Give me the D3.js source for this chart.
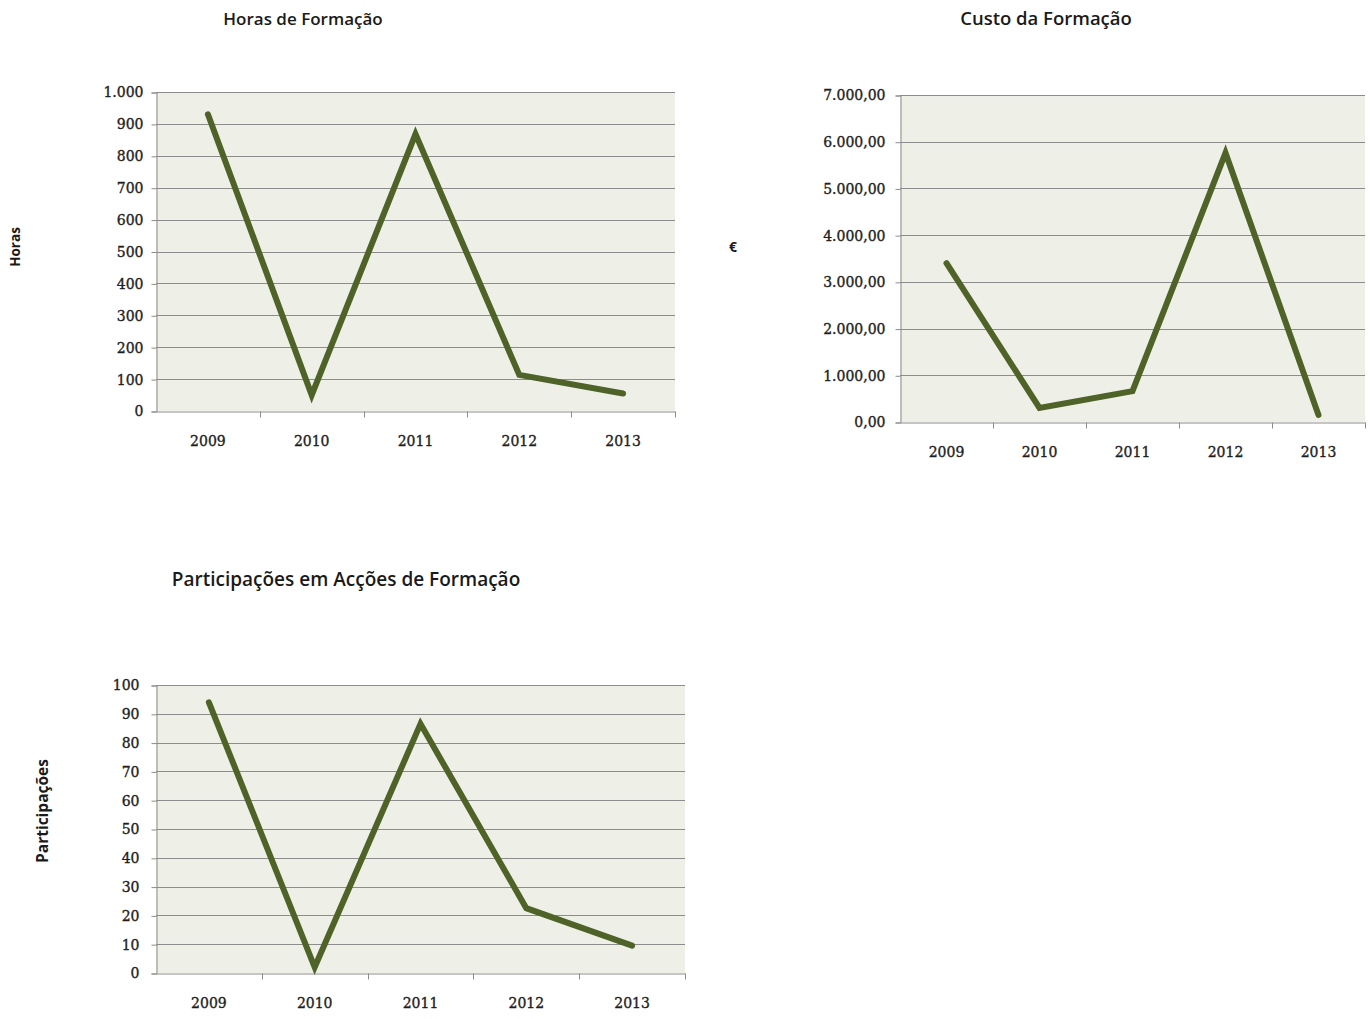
<!DOCTYPE html>
<html>
<head>
<meta charset="utf-8">
<script src="https://cdn.jsdelivr.net/npm/d3@7"></script>
<style>
  html, body { margin: 0; padding: 0; background: #fff; }
  svg { display: block; }
  .title { font-family: "Open Sans", "Noto Sans", sans-serif; font-weight: 600; fill: #1a1a1a; }
  .ytitle { font-family: "Open Sans", "Noto Sans", sans-serif; font-weight: 700; fill: #1a1a1a; }
  .tick text { font-family: "DejaVu Serif", "Liberation Serif", serif; font-size: 14px; fill: #1e1e1e; stroke: #1e1e1e; stroke-width: 0.35px; }
</style>
</head>
<body>
<svg id="chart" width="1370" height="1019"></svg>
<script>
// Years shared by the three panels
const years = ["2009", "2010", "2011", "2012", "2013"];

// Training hours per year
const horas = [930, 50, 868, 113, 55];
const horasTicks = [0, 100, 200, 300, 400, 500, 600, 700, 800, 900, 1000];

// Training cost per year (€)
const custo = [3400, 300, 660, 5760, 150];
const custoTicks = [0, 1000, 2000, 3000, 4000, 5000, 6000, 7000];

// Participations in training actions per year
const participacoes = [94, 2, 86.5, 22.5, 9.5];
const participacoesTicks = [0, 10, 20, 30, 40, 50, 60, 70, 80, 90, 100];

const pt = d3.formatLocale({ decimal: ",", thousands: ".", grouping: [3], currency: ["", " €"] });

const svg = d3.select("#chart");

function panel(cfg) {
  const g = svg.append("g");
  const x = d3.scaleBand().domain(years).range([cfg.left, cfg.right]);
  const y = d3.scaleLinear().domain([0, cfg.max]).range([cfg.bottom, cfg.top]);

  // plot background
  g.append("rect")
    .attr("x", cfg.left).attr("y", cfg.top)
    .attr("width", cfg.right - cfg.left).attr("height", cfg.bottom - cfg.top)
    .attr("fill", "#eef0e8");

  // horizontal gridlines
  g.append("g").selectAll("line")
    .data(cfg.ticks.filter(t => t > 0))
    .join("line")
    .attr("x1", cfg.left).attr("x2", cfg.right)
    .attr("y1", d => Math.round(y(d)) + 0.5).attr("y2", d => Math.round(y(d)) + 0.5)
    .attr("stroke", "#8c8c8c").attr("stroke-width", 1);

  // y axis
  const ya = g.append("g")
    .attr("transform", `translate(${cfg.left + 0.5},0.5)`)
    .call(d3.axisLeft(y).tickValues(cfg.ticks).tickFormat(cfg.fmt).tickSize(5).tickPadding(cfg.pad));
  ya.select(".domain").attr("stroke", "#8c8c8c");
  ya.selectAll(".tick line").attr("stroke", "#8c8c8c");

  // x axis with ticks on the category boundaries
  const xa = g.append("g")
    .attr("transform", `translate(0,${Math.round(y(0)) + 0.5})`)
    .call(d3.axisBottom(x).tickSize(0).tickPadding(30));
  xa.select(".domain").attr("stroke", "#8c8c8c");
  xa.selectAll(".tick text").attr("dy", "0.32em");
  const bounds = years.map(d => x(d)).concat([cfg.right]).slice(1);
  xa.selectAll("line.sep").data(bounds).join("line")
    .attr("class", "sep")
    .attr("x1", d => Math.round(d) + 0.5).attr("x2", d => Math.round(d) + 0.5)
    .attr("y1", 0).attr("y2", 6)
    .attr("stroke", "#8c8c8c");

  // series line
  const line = d3.line()
    .x((d, i) => x(years[i]) + x.bandwidth() / 2)
    .y(d => y(d));
  g.append("path")
    .datum(cfg.values)
    .attr("d", line)
    .attr("fill", "none")
    .attr("stroke", "#4f6228")
    .attr("stroke-width", 6)
    .attr("stroke-linejoin", "miter")
    .attr("stroke-linecap", "round");

  // chart title
  g.append("text").attr("class", "title")
    .attr("x", cfg.titleX).attr("y", cfg.titleY)
    .attr("text-anchor", "middle")
    .style("font-size", cfg.titleSize + "px")
    .text(cfg.title);

  // axis title
  g.append("text").attr("class", "ytitle")
    .attr("text-anchor", "middle")
    .attr("transform", `translate(${cfg.ytX},${cfg.ytY}) rotate(${cfg.ytRot})`)
    .attr("dy", "0.35em")
    .style("font-size", cfg.ytSize + "px")
    .text(cfg.ytitle);
}

panel({
  values: horas, ticks: horasTicks, max: 1000,
  left: 156, right: 675, top: 92, bottom: 411,
  fmt: pt.format(",d"), pad: 8,
  title: "Horas de Formação", titleX: 303, titleY: 25, titleSize: 17,
  ytitle: "Horas", ytX: 15, ytY: 247, ytRot: -90, ytSize: 13.5
});

panel({
  values: custo, ticks: custoTicks, max: 7000,
  left: 900, right: 1365, top: 95, bottom: 422,
  fmt: pt.format(",.2f"), pad: 10,
  title: "Custo da Formação", titleX: 1046, titleY: 25, titleSize: 18.5,
  ytitle: "€", ytX: 733, ytY: 247, ytRot: 0, ytSize: 14
});

panel({
  values: participacoes, ticks: participacoesTicks, max: 100,
  left: 156, right: 685, top: 685, bottom: 973,
  fmt: pt.format("d"), pad: 12,
  title: "Participações em Acções de Formação", titleX: 346, titleY: 586, titleSize: 19,
  ytitle: "Participações", ytX: 43, ytY: 811, ytRot: -90, ytSize: 15.5
});
</script>
</body>
</html>
